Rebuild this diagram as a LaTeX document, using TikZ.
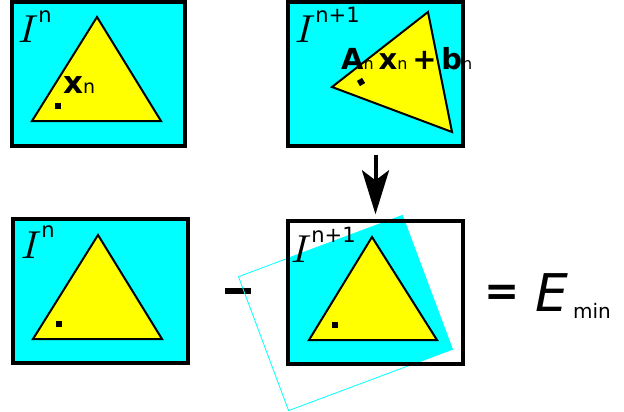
\documentclass[tikz,border=0pt]{standalone}
\usepackage{fontspec}
\setmainfont{DejaVu Sans}
\usetikzlibrary{arrows.meta,calc}
\definecolor{cy}{RGB}{0,255,255}
\definecolor{ye}{RGB}{255,255,0}
\newcommand\bigI{\scalebox{3.9}{$I$}}
\newcommand\supf{\fontsize{21}{21}\selectfont}
\newcommand\subf{\mdseries\fontsize{16}{16}\selectfont}
\begin{document}
\begin{tikzpicture}[x=1pt,y=-1pt,
  frame/.style={draw=black, line width=3.4pt, fill=cy, inner sep=0pt, minimum width=175pt, minimum height=144pt},
  tri/.style={draw=black, line width=2pt, fill=ye, line join=miter},
  dotm/.style={fill=black, minimum size=6pt, inner sep=0pt},
  lab/.style={anchor=base west, inner sep=0pt},
  arr/.style={line width=4pt, -{Stealth[length=44pt,width=27pt,inset=10pt]}}]
\useasboundingbox (0,0) rectangle (624,412);
% top left
\node[frame, minimum width=173pt] (tl) at (98.5,74) {};
\draw[tri] (97,17) -- (32,121) -- (161,121) -- cycle;
\node[dotm] (d1) at (58,106) {};
\node[lab] (ltl) at (18,43) {\bigI\raisebox{20pt}{\supf n}};
\node[lab] (lx) at (63,93) {{\bfseries\fontsize{31}{31}\selectfont x}{\fontsize{19}{19}\selectfont n}};
% top right
\node[frame] (tr) at (375.5,74) {};
\draw[tri] (332,87) -- (428,12) -- (452,132) -- cycle;
\node[dotm, rotate=30] (d2) at (361,82) {};
\node[lab] (ltr) at (295,43) {\bigI\raisebox{20pt}{\supf n+1}};
\node[lab] (lab) at (341,70) {\bfseries\fontsize{29}{29}\selectfont A{\subf n}\,x{\subf n}\,+\,b{\subf n}};
% bottom left
\node[frame] (bl) at (100.5,291) {};
\draw[tri] (98,235) -- (33,339) -- (162,339) -- cycle;
\node[dotm] (d3) at (59,324) {};
\node[lab] (lbl) at (21,258) {\bigI\raisebox{21pt}{\supf n}};
% minus
\node[fill=black, minimum width=26pt, minimum height=6pt, inner sep=0pt] (minus) at (238,291) {};
% bottom middle
\begin{scope}
  \clip (288,0) rectangle (480,364);
  \node[rotate=20.5, minimum width=175pt, minimum height=143pt, fill=cy, inner sep=0pt] (rr) at (345.5,313) {};
\end{scope}
\node[rotate=20.5, minimum width=175pt, minimum height=143pt, draw=cy, line width=0.8pt, inner sep=0pt] (rro) at (345.5,313) {};
\draw[tri] (372,237) -- (309,340) -- (437,340) -- cycle;
\node[dotm] (d4) at (335,325) {};
\node[frame, fill=none, minimum height=143pt] (bm) at (375.5,292.5) {};
\node[lab] (lbm) at (291,262) {\bigI\raisebox{20pt}{\supf n+1}};
% arrow
\draw[arr, shorten <=7pt, shorten >=5pt] (tr.south) -- (bm.north);
% = E_min
\node[inner sep=0pt] (eq) at (502,295.5) {\bfseries\fontsize{42}{42}\selectfont =};
\node[lab] (E) at (535,311) {\fontsize{52}{52}\selectfont\itshape E};
\node[lab] (min) at (573,318) {\fontsize{20}{20}\selectfont min};
\end{tikzpicture}
\end{document}
